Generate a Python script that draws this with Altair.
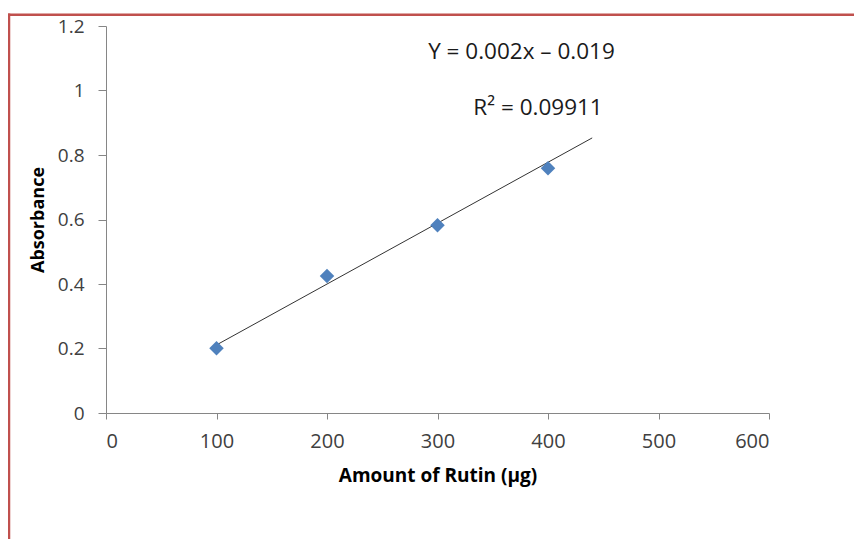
import altair as alt
import pandas as pd

# Data
amount = [100, 200, 300, 400]
absorbance = [0.201, 0.425, 0.582, 0.759]

# Trendline endpoints as drawn in the picture
trend_x = [100, 440]
trend_y = [0.211, 0.853]

# Annotations (position in data units)
ann_text = ["Y = 0.002x \u2013 0.019", "R\u00b2 = 0.09911"]
ann_x = [376, 391]
ann_y = [1.119, 0.946]

FONT = "Open Sans"
W, H = 663, 387
PAD = {"left": 98, "top": 18, "right": 85, "bottom": 126}

pts = pd.DataFrame({"x": amount, "y": absorbance})
trend = pd.DataFrame({"x": trend_x, "y": trend_y})
ann = pd.DataFrame({"t": ann_text, "x": ann_x, "y": ann_y})

xscale = alt.Scale(domain=[0, 600], nice=False)
yscale = alt.Scale(domain=[0, 1.2], nice=False)

xaxis = alt.Axis(
    title="Amount of Rutin (\u00b5g)", values=[0, 100, 200, 300, 400, 500, 600],
    grid=False, tickSize=6, labelPadding=12, titlePadding=15,
    domainColor="#868686", tickColor="#868686", labelColor="#404040",
    labelFont=FONT, labelFontSize=20, titleFont=FONT, titleFontSize=19,
    titleFontWeight="bold", titleColor="#000000",
)
yaxis = alt.Axis(
    title="Absorbance", values=[0, 0.2, 0.4, 0.6, 0.8, 1.0, 1.2], format="~g",
    grid=False, tickSize=8, labelPadding=14, titlePadding=10,
    domainColor="#868686", tickColor="#868686", labelColor="#404040",
    labelFont=FONT, labelFontSize=19, titleFont=FONT, titleFontSize=18,
    titleFontWeight="bold", titleColor="#000000",
)

base_x = alt.X("x:Q", scale=xscale, axis=xaxis)
base_y = alt.Y("y:Q", scale=yscale, axis=yaxis)

points = alt.Chart(pts).mark_point(
    shape="diamond", filled=True, size=210, color="#4F81BD", opacity=1
).encode(x=base_x, y=base_y)

line = alt.Chart(trend).mark_line(color="#333333", strokeWidth=1).encode(
    x=alt.X("x:Q", scale=xscale), y=alt.Y("y:Q", scale=yscale)
)

texts = alt.Chart(ann).mark_text(
    font=FONT, fontSize=22.5, color="#1a1a1a", align="center", baseline="middle"
).encode(x=alt.X("x:Q", scale=xscale), y=alt.Y("y:Q", scale=yscale), text="t:N")

dummy = alt.Data(values=[{"a": 1}])
border_top = alt.Chart(dummy).mark_rule(color="#C0504D", strokeWidth=2.5).encode(
    x=alt.value(-PAD["left"]), x2=alt.value(W + PAD["right"] + 5), y=alt.value(-11.3)
)
border_left = alt.Chart(dummy).mark_rule(color="#C0504D", strokeWidth=2.5).encode(
    x=alt.value(-97), y=alt.value(-12.5), y2=alt.value(H + PAD["bottom"] + 5)
)

chart = alt.layer(border_top, border_left, line, points, texts).properties(
    width=W, height=H, padding=PAD,
    autosize=alt.AutoSizeParams(type="none"),
).configure_view(strokeWidth=0)

chart.save("out.html", embed_options={"renderer": "svg", "actions": False})
